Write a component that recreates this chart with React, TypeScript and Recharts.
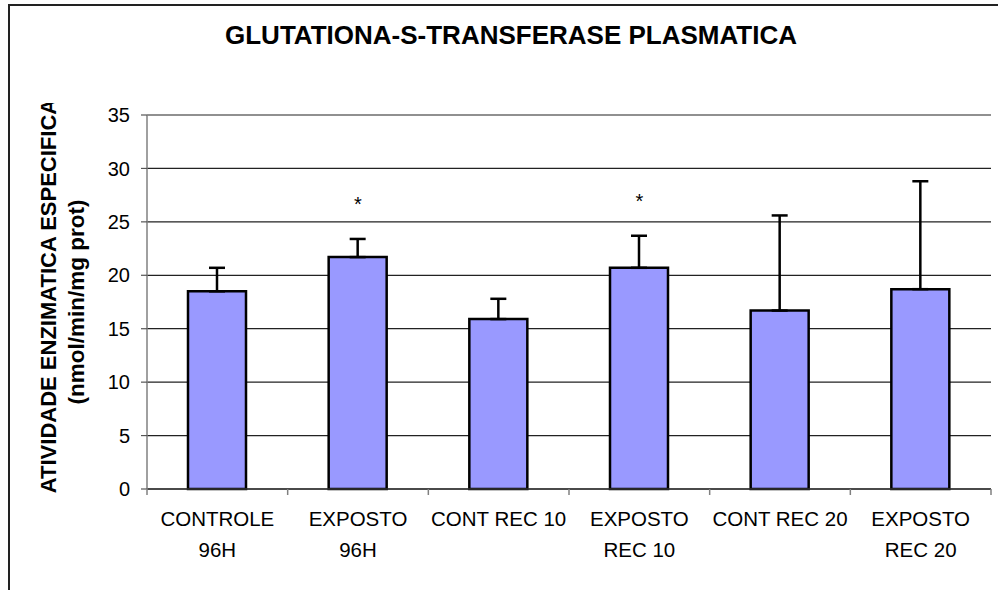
import React from 'react';
import { ComposedChart, Bar, ErrorBar, Scatter, XAxis, YAxis, CartesianGrid } from 'recharts';

const categories = ['CONTROLE\n96H', 'EXPOSTO\n96H', 'CONT REC 10', 'EXPOSTO\nREC 10', 'CONT REC 20', 'EXPOSTO\nREC 20'];
const means = [18.5, 21.7, 15.9, 20.7, 16.7, 18.7];
const errors = [2.2, 1.7, 1.9, 3.0, 8.9, 10.1];
const stars = [null, 27.0, null, 27.3, null, null];
const yTicks = [0, 5, 10, 15, 20, 25, 30, 35];

const data = categories.map((name, i) => ({
  name,
  mean: means[i],
  err: [0, errors[i]],
  star: stars[i],
}));

const W = 998;
const H = 590;
const PLOT_LEFT = 147;
const PLOT_RIGHT = 991;
const PLOT_TOP = 115;
const PLOT_BOTTOM = 489;
const X_AXIS_H = 80;
const FONT = "'Liberation Sans', Arial, sans-serif";
const band = (PLOT_RIGHT - PLOT_LEFT) / categories.length;

function CategoryTick(props: any) {
  const { x, y, payload, index } = props;
  const lines = String(payload.value).split('\n');
  return (
    <g>
      <line x1={x - band / 2} x2={x - band / 2} y1={y} y2={y + 6} stroke="#808080" strokeWidth={1.5} />
      {index === categories.length - 1 && (
        <line x1={x + band / 2} x2={x + band / 2} y1={y} y2={y + 6} stroke="#808080" strokeWidth={1.5} />
      )}
      <text x={x} y={y + 37} textAnchor="middle" fontSize={20.5} fontFamily={FONT} fill="#000">
        {lines.map((l, i) => (
          <tspan key={i} x={x} dy={i === 0 ? 0 : 31}>
            {l}
          </tspan>
        ))}
      </text>
    </g>
  );
}

function StarShape(props: any) {
  const { cx, cy, payload } = props;
  if (payload == null || payload.star == null) return null;
  return (
    <text x={cx} y={cy + 11} textAnchor="middle" fontSize={20} fontFamily={FONT} fill="#000">
      *
    </text>
  );
}

export default function App() {
  const midY = (PLOT_TOP + PLOT_BOTTOM) / 2;
  return (
    <div style={{ position: 'absolute', left: 0, top: 0, width: W, height: H, overflow: 'hidden', background: '#fff' }}>
      <div
        style={{
          position: 'absolute',
          left: 8,
          top: 4,
          width: 1200,
          height: 800,
          border: '2px solid #222',
          boxSizing: 'border-box',
        }}
      />
      <ComposedChart
        width={W}
        height={H}
        data={data}
        margin={{ top: PLOT_TOP, right: W - PLOT_RIGHT, bottom: H - PLOT_BOTTOM - X_AXIS_H, left: 0 }}
        style={{ position: 'absolute', left: 0, top: 0 }}
      >
        <CartesianGrid vertical={false} stroke="#222" strokeWidth={1.2} />
        <XAxis
          dataKey="name"
          height={X_AXIS_H}
          interval={0}
          tickSize={0}
          tickLine={false}
          tickMargin={0}
          axisLine={{ stroke: '#333', strokeWidth: 1.5 }}
          tick={<CategoryTick />}
        />
        <YAxis
          width={PLOT_LEFT}
          domain={[0, 35]}
          ticks={yTicks}
          interval={0}
          tickSize={6}
          tickMargin={11}
          axisLine={{ stroke: '#808080', strokeWidth: 1.5 }}
          tickLine={{ stroke: '#555', strokeWidth: 1.2 }}
          tick={{ fontSize: 20, fontFamily: FONT, fill: '#000' }}
        />
        <Bar dataKey="mean" fill="#9999FF" stroke="#000" strokeWidth={2.5} barSize={58} isAnimationActive={false}>
          <ErrorBar dataKey="err" direction="y" width={8} strokeWidth={2.5} stroke="#000" />
        </Bar>
        <Scatter dataKey="star" shape={<StarShape />} isAnimationActive={false} legendType="none" />
      </ComposedChart>
      <svg
        width={W}
        height={H}
        style={{ position: 'absolute', left: 0, top: 0, pointerEvents: 'none' }}
      >
        <defs>
          <clipPath id="ylabel-clip">
            <rect x={0} y={103} width={140} height={H - 103} />
          </clipPath>
        </defs>
        <text x={511} y={44} textAnchor="middle" fontSize={26} fontWeight="bold" fontFamily={FONT} fill="#000">
          GLUTATIONA-S-TRANSFERASE PLASMATICA
        </text>
        <g clipPath="url(#ylabel-clip)">
          <text
            transform={`translate(56, ${midY - 6}) rotate(-90)`}
            textAnchor="middle"
            fontSize={22}
            fontWeight="bold"
            fontFamily={FONT}
            fill="#000"
          >
            ATIVIDADE ENZIMATICA ESPECIFICA
          </text>
          <text
            transform={`translate(84, ${midY}) rotate(-90)`}
            textAnchor="middle"
            fontSize={22.5}
            fontWeight="bold"
            fontFamily={FONT}
            fill="#000"
          >
            (nmol/min/mg prot)
          </text>
        </g>
      </svg>
    </div>
  );
}
